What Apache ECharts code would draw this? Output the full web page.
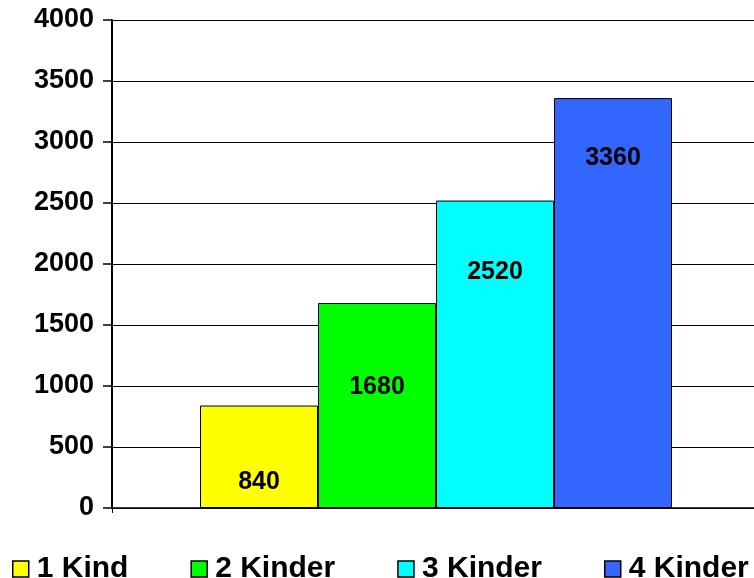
<!DOCTYPE html>
<html>
<head>
<meta charset="utf-8">
<script src="https://cdn.jsdelivr.net/npm/echarts@6/dist/echarts.min.js"></script>
<style>html,body{margin:0;padding:0;background:#fff}#c{width:754px;height:578px}</style>
</head>
<body>
<div id="c"></div>
<script>
const categories = [''];
const seriesNames = ['1 Kind', '2 Kinder', '3 Kinder', '4 Kinder'];
const seriesValues = [840, 1680, 2520, 3360];
const colors = ['#ffff00', '#00ff00', '#00ffff', '#3366ff'];
const labelDistances = [64, 72, 59, 48];

const chart = echarts.init(document.getElementById('c'));
const font = '"Liberation Sans", Arial, sans-serif';
const barSeries = seriesNames.map((n, i) => ({
  name: n, type: 'bar', data: [seriesValues[i]],
  barWidth: 118, barGap: '0%',
  itemStyle: { color: colors[i], borderColor: '#000', borderWidth: 1 },
  label: {
    show: true, position: 'insideTop', distance: labelDistances[i],
    color: '#000', fontWeight: 'bold', fontSize: 25, fontFamily: font
  }
}));
// invisible spacer to nudge the bar group to the reference position
const spacer = { name: '_spacer', type: 'bar', data: [0], barWidth: 6, barGap: '0%',
  itemStyle: { color: 'rgba(0,0,0,0)', borderWidth: 0 }, silent: true };
chart.setOption({
  animation: false,
  grid: { left: 112, right: 0, top: 20, bottom: 70 },
  xAxis: {
    type: 'category', data: categories,
    axisLine: { lineStyle: { color: '#000', width: 1.5 } },
    axisTick: { show: true, length: 5, lineStyle: { color: '#000' } },
    axisLabel: { show: false }
  },
  yAxis: {
    type: 'value', min: 0, max: 4000, interval: 500,
    axisLine: { show: true, lineStyle: { color: '#000', width: 2 } },
    axisTick: { show: true, length: 9, lineStyle: { color: '#000', width: 1.5 } },
    axisLabel: { color: '#000', fontWeight: 'bold', fontSize: 27, fontFamily: font, margin: 18,
      formatter: v => String(v) },
    splitLine: { lineStyle: { color: '#000', width: 1.2 } }
  },
  legend: {
    data: seriesNames,
    top: 549, left: 7, width: 800, padding: 5, itemGap: 62, itemWidth: 16, itemHeight: 16,
    icon: 'rect',
    textStyle: { color: '#000', fontWeight: 'bold', fontSize: 30, fontFamily: font, padding: [0, 0, 0, 3] },
    itemStyle: { borderColor: '#000', borderWidth: 1.5 }
  },
  series: [spacer].concat(barSeries)
});
</script>
</body>
</html>
